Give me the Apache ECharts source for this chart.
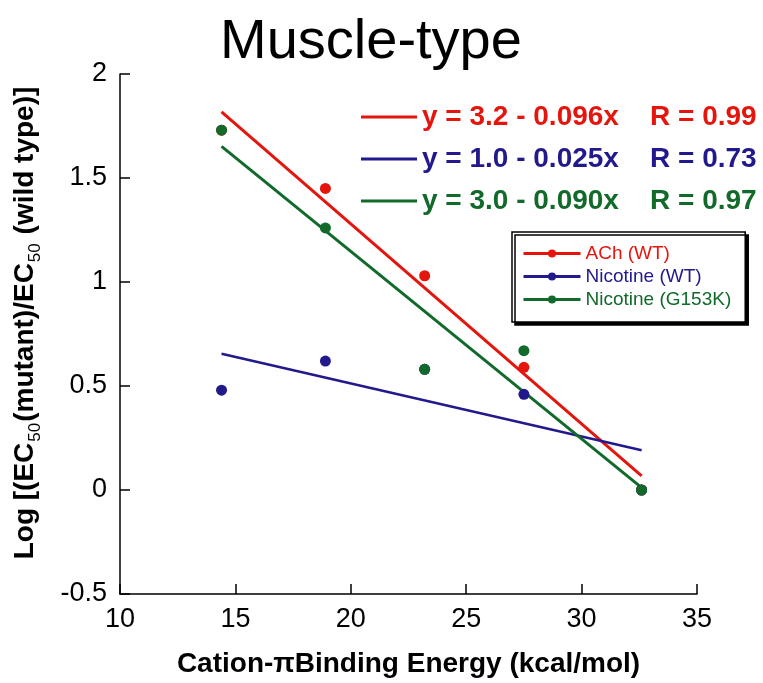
<!DOCTYPE html>
<html>
<head>
<meta charset="utf-8">
<script src="https://cdn.jsdelivr.net/npm/echarts@6/dist/echarts.min.js"></script>
<style>
  html, body { margin: 0; padding: 0; background: #fff; }
  #chart { width: 763px; height: 683px; }
</style>
</head>
<body>
<div id="chart"></div>
<script>
// cation-pi binding energy of each mutant (kcal/mol)
const energies = [14.4, 18.9, 23.2, 27.5, 32.6]
const achWT = [1.73, 1.45, 1.03, 0.59, 0.0]
const nicWT = [0.48, 0.62, 0.58, 0.46, 0.0]
const nicG153K = [1.73, 1.26, 0.58, 0.67, 0.0]

const pointNames = ['ACh (WT)', 'Nicotine (WT)', 'Nicotine (G153K)']
const fitLabels = [
  'y = 3.2 - 0.096x    R = 0.99',
  'y = 1.0 - 0.025x    R = 0.73',
  'y = 3.0 - 0.090x    R = 0.97',
]
const colors = ['#e4150c', '#22198c', '#11692a']

const xMin = 10, xMax = 35, xStep = 5
const yMin = -0.5, yMax = 2, yStep = 0.5

const FONT = '"Liberation Sans", Arial, sans-serif'

// plain least squares, endpoints over the data range
const fitLine = (xs, ys) => {
  const n = xs.length
  const mx = xs.reduce((s, v) => s + v, 0) / n
  const my = ys.reduce((s, v) => s + v, 0) / n
  let sxy = 0, sxx = 0
  xs.forEach((x, i) => {
    sxy += (x - mx) * (ys[i] - my)
    sxx += (x - mx) * (x - mx)
  })
  const b = sxy / sxx
  const a = my - b * mx
  const lo = Math.min(...xs), hi = Math.max(...xs)
  return [[lo, a + b * lo], [hi, a + b * hi]]
}

const groups = [achWT, nicWT, nicG153K]
const pairs = (ys) => energies.map((x, i) => [x, ys[i]])

const fitSeries = groups.map((ys, i) => ({
  name: fitLabels[i],
  type: 'line',
  data: fitLine(energies, ys),
  symbol: 'none',
  silent: true,
  lineStyle: { color: colors[i], width: i === 1 ? 2.5 : 3 },
  itemStyle: { color: colors[i] },
  z: 2,
}))

const pointSeries = groups.map((ys, i) => ({
  name: pointNames[i],
  type: 'line',
  data: pairs(ys),
  symbol: 'circle',
  symbolSize: 11,
  showSymbol: true,
  lineStyle: { opacity: 0 },
  itemStyle: { color: colors[i] },
  z: 3,
}))

const chart = echarts.init(document.getElementById('chart'))
chart.setOption({
  animation: false,
  backgroundColor: '#fff',
  title: {
    text: 'Muscle-type',
    left: 215,
    top: 10,
    textStyle: { fontFamily: FONT, fontSize: 56, fontWeight: 'normal', color: '#000' },
  },
  grid: { left: 120, right: 66, top: 74, bottom: 85 },
  legend: [
    {
      data: fitLabels.map((n, i) => ({ name: n, textStyle: { color: colors[i] } })),
      orient: 'vertical',
      left: 356,
      top: 98,
      itemGap: 14,
      itemWidth: 56,
      itemHeight: 3,
      icon: 'rect',
      selectedMode: false,
      textStyle: { fontFamily: FONT, fontSize: 28, fontWeight: 'bold' },
    },
    {
      data: pointNames.map((n, i) => ({ name: n, textStyle: { color: colors[i] } })),
      orient: 'vertical',
      left: 512,
      top: 232,
      padding: [12, 14, 13, 10],
      itemGap: 4,
      itemWidth: 57,
      itemHeight: 10,
      selectedMode: false,
      backgroundColor: '#fff',
      borderColor: '#000',
      borderWidth: 1.5,
      borderRadius: 0,
      shadowColor: '#000',
      shadowBlur: 0,
      shadowOffsetX: 3,
      shadowOffsetY: 3,
      lineStyle: { width: 3, opacity: 1 },
      textStyle: { fontFamily: FONT, fontSize: 19 },
    },
  ],
  xAxis: {
    type: 'value',
    min: xMin,
    max: xMax,
    interval: xStep,
    name: 'Cation-πBinding Energy (kcal/mol)',
    nameLocation: 'middle',
    nameGap: 56,
    nameTextStyle: { fontFamily: FONT, fontSize: 28, fontWeight: 'bold', color: '#000' },
    axisLine: { onZero: false, lineStyle: { color: '#000', width: 1.5 } },
    axisTick: { inside: true, length: 10, lineStyle: { color: '#000', width: 1.5 } },
    axisLabel: { margin: 12, fontFamily: FONT, fontSize: 27, color: '#000' },
    splitLine: { show: false },
  },
  yAxis: {
    type: 'value',
    min: yMin,
    max: yMax,
    interval: yStep,
    name: '{b|Log [(EC}{s|50}{b|(mutant)/EC}{s|50}{b| (wild type)]}',
    nameLocation: 'middle',
    nameGap: 76,
    nameRotate: 90,
    nameTextStyle: {
      padding: [0, 0, 0, 22],
      rich: {
        b: { fontFamily: FONT, fontSize: 28, fontWeight: 'bold', color: '#000' },
        s: { fontFamily: FONT, fontSize: 17, color: '#000', padding: [20, 1, 0, 1] },
      },
    },
    axisLine: { onZero: false, lineStyle: { color: '#000', width: 1.5 } },
    axisTick: { inside: true, length: 10, lineStyle: { color: '#000', width: 1.5 } },
    axisLabel: { margin: 13, fontFamily: FONT, fontSize: 27, color: '#000' },
    splitLine: { show: false },
  },
  series: [...fitSeries, ...pointSeries],
})
</script>
</body>
</html>
